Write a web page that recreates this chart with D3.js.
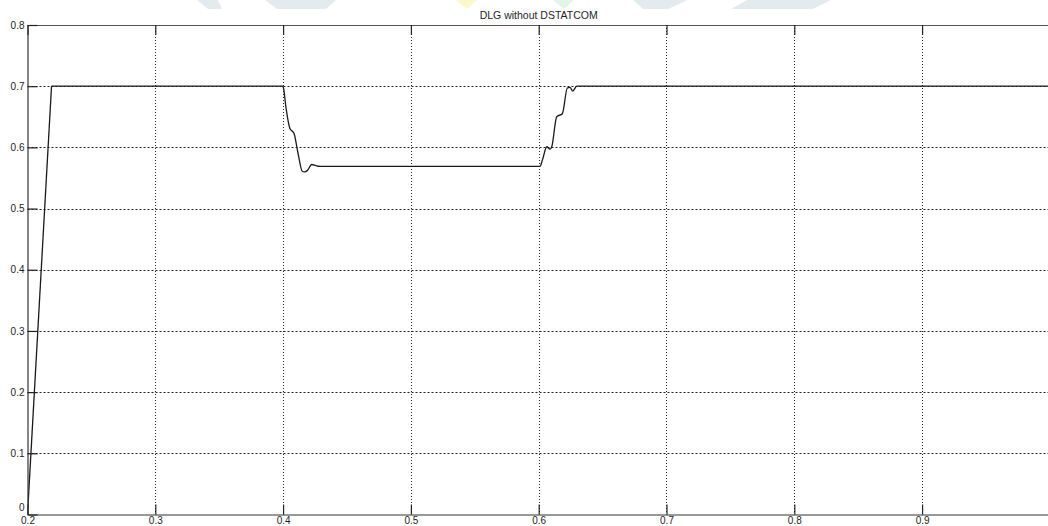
<!DOCTYPE html>
<html>
<head>
<meta charset="utf-8">
<script src="https://cdn.jsdelivr.net/npm/d3@7/dist/d3.min.js"></script>
<style>
  html, body { margin: 0; padding: 0; background: #fff; }
  svg { display: block; }
  text { font-family: "Liberation Sans", Arial, sans-serif; }
</style>
</head>
<body>
<svg id="chart" width="1048" height="526"></svg>
<script>
// Voltage trace during a DLG fault (no DSTATCOM): time in s, magnitude in p.u.
const timeS = [0.2, 0.2188, 0.3995, 0.4002, 0.4023, 0.4053, 0.4085, 0.4117, 0.4150, 0.4170, 0.4189,
               0.4224, 0.4258, 0.4289, 0.6010, 0.6030, 0.6063, 0.6089, 0.6102, 0.6141, 0.6185,
               0.6224, 0.6245, 0.6266, 0.6298, 1.0];
const voltagePU = [0.0, 0.70, 0.70, 0.698, 0.664, 0.631, 0.623, 0.590, 0.561, 0.560, 0.562,
                   0.572, 0.570, 0.569, 0.569, 0.580, 0.601, 0.597, 0.601, 0.650, 0.655,
                   0.697, 0.698, 0.692, 0.70, 0.70];
const xTicks = [0.2, 0.3, 0.4, 0.5, 0.6, 0.7, 0.8, 0.9];
const yTicks = [0, 0.1, 0.2, 0.3, 0.4, 0.5, 0.6, 0.7, 0.8];
const chartTitle = "DLG without DSTATCOM";

(function draw() {
  const svg = d3.select("#chart");
  const W = 1048;
  const padL = 27.5, padT = 25, baseY = 514.5, rightAt1 = 1049.9;

  const x = d3.scaleLinear().domain([0.2, 1.0]).range([padL, rightAt1]);
  const y = d3.scaleLinear().domain([0, 0.8]).range([baseY, padT]);

  // faint background logo shapes along the top edge
  const deco = svg.append("g").attr("class", "backdrop");
  const shapes = [
    {pts: [[197,0],[218,0],[222,9],[208,9]], c: "#e4ebef"},
    {pts: [[265,0],[336,0],[326,9],[277,9]], c: "#e4ebef"},
    {pts: [[456,0],[477,0],[467,9]], c: "#fbf7cf"},
    {pts: [[553,0],[574,0],[564,9]], c: "#e2f3e8"},
    {pts: [[633,0],[688,0],[668,9],[643,9]], c: "#e4ebef"},
    {pts: [[747,0],[831,0],[813,9],[731,9]], c: "#e4ebef"}
  ];
  deco.selectAll("polygon").data(shapes).join("polygon")
    .attr("points", d => d.pts.map(p => p.join(",")).join(" "))
    .attr("fill", d => d.c);

  // plot area clip (the right edge runs off the page)
  svg.append("defs").append("clipPath").attr("id", "plotClip")
    .append("rect").attr("x", padL).attr("y", padT).attr("width", W - padL).attr("height", baseY - padT);

  // grid
  const grid = svg.append("g").attr("clip-path", "url(#plotClip)");
  grid.selectAll("line.gx").data(xTicks.slice(1)).join("line")
    .attr("class", "gx")
    .attr("x1", d => Math.round(x(d)) + 0.5).attr("x2", d => Math.round(x(d)) + 0.5)
    .attr("y1", padT).attr("y2", baseY)
    .attr("stroke", "#222").attr("stroke-width", 1).attr("stroke-dasharray", "1,2");
  grid.selectAll("line.gy").data(yTicks.slice(1, -1)).join("line")
    .attr("class", "gy")
    .attr("x1", padL).attr("x2", W)
    .attr("y1", d => Math.round(y(d)) + 0.5).attr("y2", d => Math.round(y(d)) + 0.5)
    .attr("stroke", "#222").attr("stroke-width", 1).attr("stroke-dasharray", "2,2");

  // data: straight start-up ramp, then a smoothed trace for the sag and recovery
  const pts = timeS.map((t, i) => [t, voltagePU[i]]);
  const rampLine = d3.line().x(d => x(d[0])).y(d => y(d[1])).curve(d3.curveLinear);
  const traceLine = d3.line().x(d => x(d[0])).y(d => y(d[1])).curve(d3.curveMonotoneX);
  const plotG = svg.append("g").attr("clip-path", "url(#plotClip)");
  plotG.append("path")
    .datum(pts.slice(0, 2))
    .attr("fill", "none").attr("stroke", "#1a1a1a").attr("stroke-width", 1.3)
    .attr("d", rampLine);
  plotG.append("path")
    .datum(pts.slice(1))
    .attr("fill", "none").attr("stroke", "#1a1a1a").attr("stroke-width", 1.3)
    .attr("d", traceLine);

  // axes (ticks point inward)
  const tickLen = 10;
  const xAxisB = d3.axisBottom(x).tickValues(xTicks).tickSizeInner(-tickLen).tickSizeOuter(0)
    .tickPadding(2).tickFormat(d3.format(".1f"));
  const xAxisT = d3.axisTop(x).tickValues(xTicks).tickSizeInner(-tickLen).tickSizeOuter(0).tickFormat("");
  const yAxisL = d3.axisLeft(y).tickValues(yTicks).tickSizeInner(-tickLen).tickSizeOuter(0)
    .tickPadding(3).tickFormat(d => d === 0 ? "0" : d3.format(".1f")(d));

  function styleAxis(g) {
    g.select(".domain").attr("stroke", "#333").attr("stroke-width", 1.2);
    g.selectAll(".tick line").attr("stroke", "#222").attr("stroke-width", 1.2);
    g.selectAll(".tick text").attr("fill", "#1e1e2a").attr("font-size", "10px")
      .attr("font-family", "'Liberation Sans', Arial, sans-serif");
  }

  svg.append("g").attr("transform", `translate(0,${baseY})`).call(xAxisB).call(styleAxis)
    .selectAll(".tick text").attr("dy", "0.72em");
  svg.append("g").attr("transform", `translate(0,${padT})`).call(xAxisT).call(styleAxis)
    .select(".domain").attr("stroke", "#555");
  svg.append("g").attr("transform", `translate(${padL},0)`).call(yAxisL).call(styleAxis)
    .selectAll(".tick text").filter(d => d === 0).attr("dy", "-0.45em");

  // title
  svg.append("text")
    .attr("x", (padL + rightAt1) / 2)
    .attr("y", 19)
    .attr("text-anchor", "middle")
    .attr("font-size", "10.5px")
    .attr("fill", "#1e1e2a")
    .text(chartTitle);
})();
</script>
</body>
</html>
